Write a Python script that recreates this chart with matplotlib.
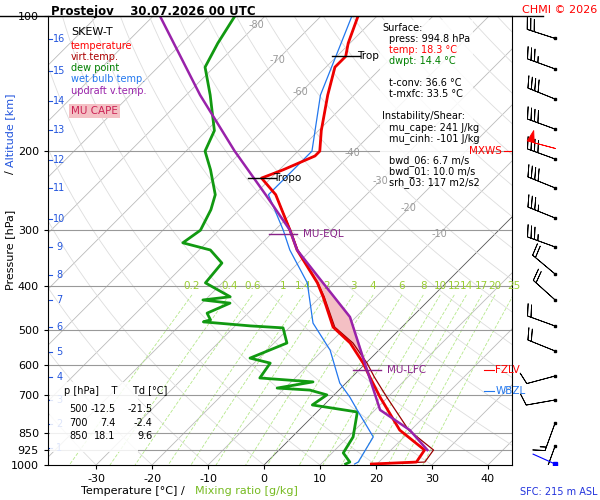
import numpy as np
import matplotlib
matplotlib.use("Agg")
import matplotlib.pyplot as plt

SK = 80.2  # skew factor (deg C per decade of pressure)

def L(p):
    return np.log10(1000.0 / np.asarray(p, dtype=float))

def X(T, p):
    return np.asarray(T, dtype=float) + SK * L(p)

# ---------------- data ----------------
temp_p = [995, 985, 926, 836, 706, 637, 593, 535, 493, 422, 393, 332, 300, 250, 229.6, 220, 205, 200, 180, 150, 130, 123, 115, 100]
temp_T = [19.0, 26.7, 26.0, 18.0, 8.6, 3.2, -0.5, -6.4, -12.3, -19.5, -23.0, -32.5, -37.3, -46.2, -51.7, -49.3, -46.1, -46.1, -49.5, -54.7, -58.4, -58.4, -60.3, -63.4]
virt_T = [19.6, 28.2, 27.6, 19.6, 9.8, 4.0, 0.2, -5.9, -12.0, -19.3, -22.9, -32.4, -37.2, -46.2, -51.7, -49.3, -46.1, -46.1, -49.5, -54.7, -58.4, -58.4, -60.3, -63.4]

dew_p = [995, 985, 940, 866, 762, 735, 698, 681, 674, 653, 640, 593, 578, 535, 495, 490, 480, 475, 459, 436, 429, 422, 393, 355, 332, 320, 300, 270, 250, 220, 200, 180, 150, 130, 115, 100]
dew_T = [14.4, 14.8, 12.0, 10.9, 7.2, -2.1, -1.3, -5.2, -11.4, -6.1, -16.3, -17.1, -21.6, -17.7, -21.1, -27.3, -36.4, -35.5, -37.3, -35.0, -40.4, -36.1, -43.0, -43.6, -48.0, -54.2, -53.3, -55.1, -57.0, -62.3, -66.6, -68.6, -75.7, -81.6, -83.6, -85.4]

wb_p = [995, 985, 866, 754, 706, 657, 555, 483, 393, 332, 300, 250, 200, 150, 100]
wb_T = [16.0, 16.3, 14.5, 6.8, 3.2, -1.1, -8.7, -16.6, -24.8, -33.8, -38.5, -47.5, -47.5, -56.0, -64.5]

parc_p = [926, 836, 754, 614, 468, 393, 332, 300, 250, 200, 150, 100]
parc_T = [26.5, 19.8, 10.9, 1.4, -11.1, -22.0, -32.5, -37.3, -48.0, -61.3, -77.5, -98.8]

p_ticks = [100, 200, 300, 400, 500, 600, 700, 850, 925, 1000]
isobars = [200, 300, 400, 500, 600, 700, 850, 925]
km_labels = list(range(1, 17))
km_p = [916.6, 810, 716, 637, 560, 493, 429, 377.5, 326.9, 283.2, 241.5, 209.4, 179.5, 154.6, 132.6, 112.5]
t_ticks = [-30, -20, -10, 0, 10, 20, 30, 40]
mix_ratios = [0.2, 0.4, 0.6, 1, 1.4, 2, 3, 4, 6, 8, 10, 12, 14, 17, 20, 25]
mix_labels = ["0.2", "0.4", "0.6", "1", "1.4", "2", "3", "4", "6", "8", "10", "12", "14", "17", "20", "25"]
iso_lab_T = [-80, -70, -60, -40, -30, -20, -10]
iso_lab_p = [104.5, 125, 148, 202, 233, 268, 306]

wind_p = [112.2, 131.2, 153.1, 178.6, 208.2, 241.5, 281.8, 326.9, 375.6, 429, 490.3, 557.3, 633.5, 716.4, 806, 907]
wind_dir = [288, 290, 292, 290, 290, 292, 292, 290, 310, 312, 290, 292, 255, 260, 200, 200]
wind_spd = [30, 35, 40, 40, 40, 40, 35, 35, 20, 20, 20, 20, 10, 10, 15, 15]

table_rows = [("500", "-12.5", "-21.5"), ("700", "7.4", "-2.4"), ("850", "18.1", "9.6")]

# ---------------- figure ----------------
fig = plt.figure(figsize=(6, 5), dpi=100)
ax = fig.add_axes([48/600, 35/500, 464/600, 449/500])
xmin, xmax = -38.6, 44.3
ax.set_xlim(xmin, xmax)
ax.set_ylim(0, 1)

pp = np.logspace(np.log10(100), 3, 200)
for t in range(-160, 60, 10):
    c = '#555555' if t == 0 else '#bbbbbb'
    ax.plot(X(t, pp), L(pp), color=c, lw=0.6, zorder=1)
for th in range(-30, 200, 10):
    thk = th + 273.15
    tt = thk * (pp / 1000.0) ** 0.286 - 273.15
    ax.plot(X(tt, pp), L(pp), color='#dddddd', lw=0.6, zorder=1)
pm = np.logspace(np.log10(418), 3, 50)
for w, lab in zip(mix_ratios, mix_labels):
    e = w * pm / (622.0 + w)
    a = np.log(e / 6.112)
    td = 243.5 * a / (17.67 - a)
    ax.plot(X(td, pm), L(pm), color='#b5e88a', lw=0.6, ls=(0, (4, 2)), zorder=1)
    ax.text(X(td[0], 418), L(410), lab, color='#9acd32', fontsize=7.5, ha='center', va='bottom')
for p in isobars:
    ax.axhline(L(p), color='#999999', lw=0.8, zorder=1)
for t, p in zip(iso_lab_T, iso_lab_p):
    ax.text(X(t, p), L(p), str(t), color='#999999', fontsize=7, ha='center', va='center', zorder=10)

pf = np.logspace(np.log10(306), np.log10(614), 60)
tp = np.interp(np.log(pf), np.log(parc_p[::-1]), parc_T[::-1])
te = np.interp(np.log(pf), np.log(temp_p[::-1]), temp_T[::-1])
ax.fill_betweenx(L(pf), X(te, pf), X(tp, pf), color='#f4c0c4', zorder=2)

ax.plot(X(dew_T, dew_p), L(dew_p), color='#119911', lw=2, zorder=4)
ax.plot(X(wb_T, wb_p), L(wb_p), color='#2277ee', lw=0.9, zorder=4)
ax.plot(X(virt_T, temp_p), L(temp_p), color='#990000', lw=0.9, zorder=4)
ax.plot(X(temp_T, temp_p), L(temp_p), color='#ee0000', lw=2, zorder=5)
ax.plot(X(parc_T, parc_p), L(parc_p), color='#9922aa', lw=1.8, zorder=6)

def hmark(p, t, label, color, dx=2):
    x0 = X(t, p)
    ax.plot([x0 - 2.5, x0 + 2.5], [L(p)] * 2, color=color, lw=1, zorder=7)
    ax.text(x0 + dx, L(p), label, color=color, fontsize=7.5, va='center', zorder=7)
hmark(229.6, -51.7, "Tropo", 'black')
hmark(123, -58.4, "Trop", 'black')
hmark(306, -37.8, "MU-EQL", '#882288', 3.5)
hmark(614, 1.4, "MU-LFC", '#882288', 3.5)
ax.plot([xmax - 5, xmax - 3.3], [L(614)] * 2, color='red', lw=0.8)
ax.text(xmax - 3, L(614), "FZLV", color='red', fontsize=7.5, va='center')
ax.plot([xmax - 5, xmax - 3.3], [L(684)] * 2, color='#2277ee', lw=0.8)
ax.text(xmax - 3, L(684), "WBZL", color='#2277ee', fontsize=7.5, va='center')
ax.plot([xmax - 1.5, xmax - 0.2], [L(200)] * 2, color='red', lw=0.8, zorder=10)
ax.text(xmax - 1.8, L(200), "MXWS", color='red', fontsize=7.5, va='center', ha='right', zorder=10)

ax.set_yticks(L(p_ticks))
ax.set_yticklabels([str(p) for p in p_ticks], fontsize=8)
ax.set_xticks(t_ticks)
ax.set_xticklabels([str(t) for t in t_ticks], fontsize=8)
ax.tick_params(length=3)
for k, p in zip(km_labels, km_p):
    ax.text(xmin + 2.0, L(p), str(k), color='#2255dd', fontsize=7, ha='center', va='center')
    ax.plot([xmin, xmin + 0.8], [L(p)] * 2, color='#2255dd', lw=0.8)

fig.text(0.215, 0.012, "Temperature [°C]", fontsize=8, ha='center')
fig.text(0.305, 0.012, "/", fontsize=8, ha='center')
fig.text(0.41, 0.012, "Mixing ratio [g/kg]", fontsize=8, ha='center', color='#77bb22')
fig.text(0.008, 0.50, "Pressure [hPa]", fontsize=8, rotation=90, ha='left', va='center')
fig.text(0.008, 0.655, "/", fontsize=8, rotation=90, ha='left', va='center')
fig.text(0.008, 0.74, "Altitude [km]", fontsize=8, rotation=90, ha='left', va='center', color='#2255dd')

lx = 0.05
ax.text(lx, 0.975, "SKEW-T", transform=ax.transAxes, fontsize=8, va='top')
leg = [("temperature", 'red'), ("virt.temp.", '#aa0000'), ("dew point", 'green'),
       ("wet bulb temp.", '#2277ee'), ("updraft v.temp.", '#9922aa')]
for i, (s, c) in enumerate(leg):
    ax.text(lx, 0.945 - i * 0.025, s, transform=ax.transAxes, fontsize=7, va='top', color=c)
ax.text(lx, 0.80, "MU CAPE", transform=ax.transAxes, fontsize=7.5, va='top', color='#cc2255',
        bbox=dict(facecolor='#f4c0c4', edgecolor='none', pad=1.5))

info = [("Surface:", 'black', 0.0), ("press: 994.8 hPa", 'black', 0.015), ("temp: 18.3 °C", 'red', 0.015),
        ("dwpt: 14.4 °C", 'green', 0.015), ("", 'black', 0), ("t-conv: 36.6 °C", 'black', 0.015),
        ("t-mxfc: 33.5 °C", 'black', 0.015), ("", 'black', 0), ("Instability/Shear:", 'black', 0.0),
        ("mu_cape: 241 J/kg", 'black', 0.015), ("mu_cinh: -101 J/kg", 'black', 0.015), ("", 'black', 0),
        ("bwd_06: 6.7 m/s", 'black', 0.015), ("bwd_01: 10.0 m/s", 'black', 0.015),
        ("srh_03: 117 m2/s2", 'black', 0.015)]
ax.add_patch(plt.Rectangle((0.715, 0.63), 0.2, 0.36, transform=ax.transAxes, facecolor='white',
                           edgecolor='none', alpha=0.85, zorder=8))
for i, (s, c, dx) in enumerate(info):
    ax.text(0.72 + dx, 0.985 - i * 0.0245, s, transform=ax.transAxes, fontsize=7, va='top', color=c, zorder=9)

ax.add_patch(plt.Rectangle((0.005, 0.03), 0.19, 0.155, transform=ax.transAxes, facecolor='white',
                           edgecolor='none', alpha=0.85, zorder=8))
ax.text(0.035, 0.175, "p [hPa]    T     Td [°C]", transform=ax.transAxes, fontsize=7, va='top', zorder=9)
for i, (a, b, c) in enumerate(table_rows):
    yy = 0.135 - i * 0.03
    ax.text(0.085, yy, a, transform=ax.transAxes, fontsize=7, va='top', ha='right', zorder=9)
    ax.text(0.145, yy, b, transform=ax.transAxes, fontsize=7, va='top', ha='right', zorder=9)
    ax.text(0.225, yy, c, transform=ax.transAxes, fontsize=7, va='top', ha='right', zorder=9)

fig.text(0.085, 0.99, "Prostejov    30.07.2026 00 UTC", fontsize=8.5, fontweight='bold', va='top')
fig.text(0.995, 0.99, "CHMI © 2026", fontsize=8, color='red', va='top', ha='right')
fig.text(0.995, 0.01, "SFC: 215 m ASL", fontsize=7, color='#2233dd', ha='right')
fig.add_artist(plt.Line2D([0.0, 0.905], [0.968, 0.968], color='black', lw=1))

axw = fig.add_axes([512/600, 35/500, 88/600, 449/500])
axw.set_xlim(0, 1)
axw.set_ylim(0, 1)
axw.axis('off')
d = np.radians(wind_dir)
s = np.asarray(wind_spd, dtype=float)
u = -s * np.sin(d)
v = -s * np.cos(d)
axw.barbs(np.full(len(wind_p), 0.49), L(wind_p), u, v, length=6.5, linewidth=0.6, color='black')
axw.plot(np.full(len(wind_p), 0.49), L(wind_p), 's', ms=1.8, color='black')
axw.barbs([0.49], [L(200) + 0.006], [-np.sin(np.radians(285)) * 50], [-np.cos(np.radians(285)) * 50],
          length=6.5, linewidth=0.6, color='red')
axw.plot([0.49, 0.24], [L(995), L(995) + 0.022], color='blue', lw=0.8)
axw.plot([0.49], [L(995)], 's', ms=2.5, color='blue')

fig.savefig("out.png", dpi=100)
